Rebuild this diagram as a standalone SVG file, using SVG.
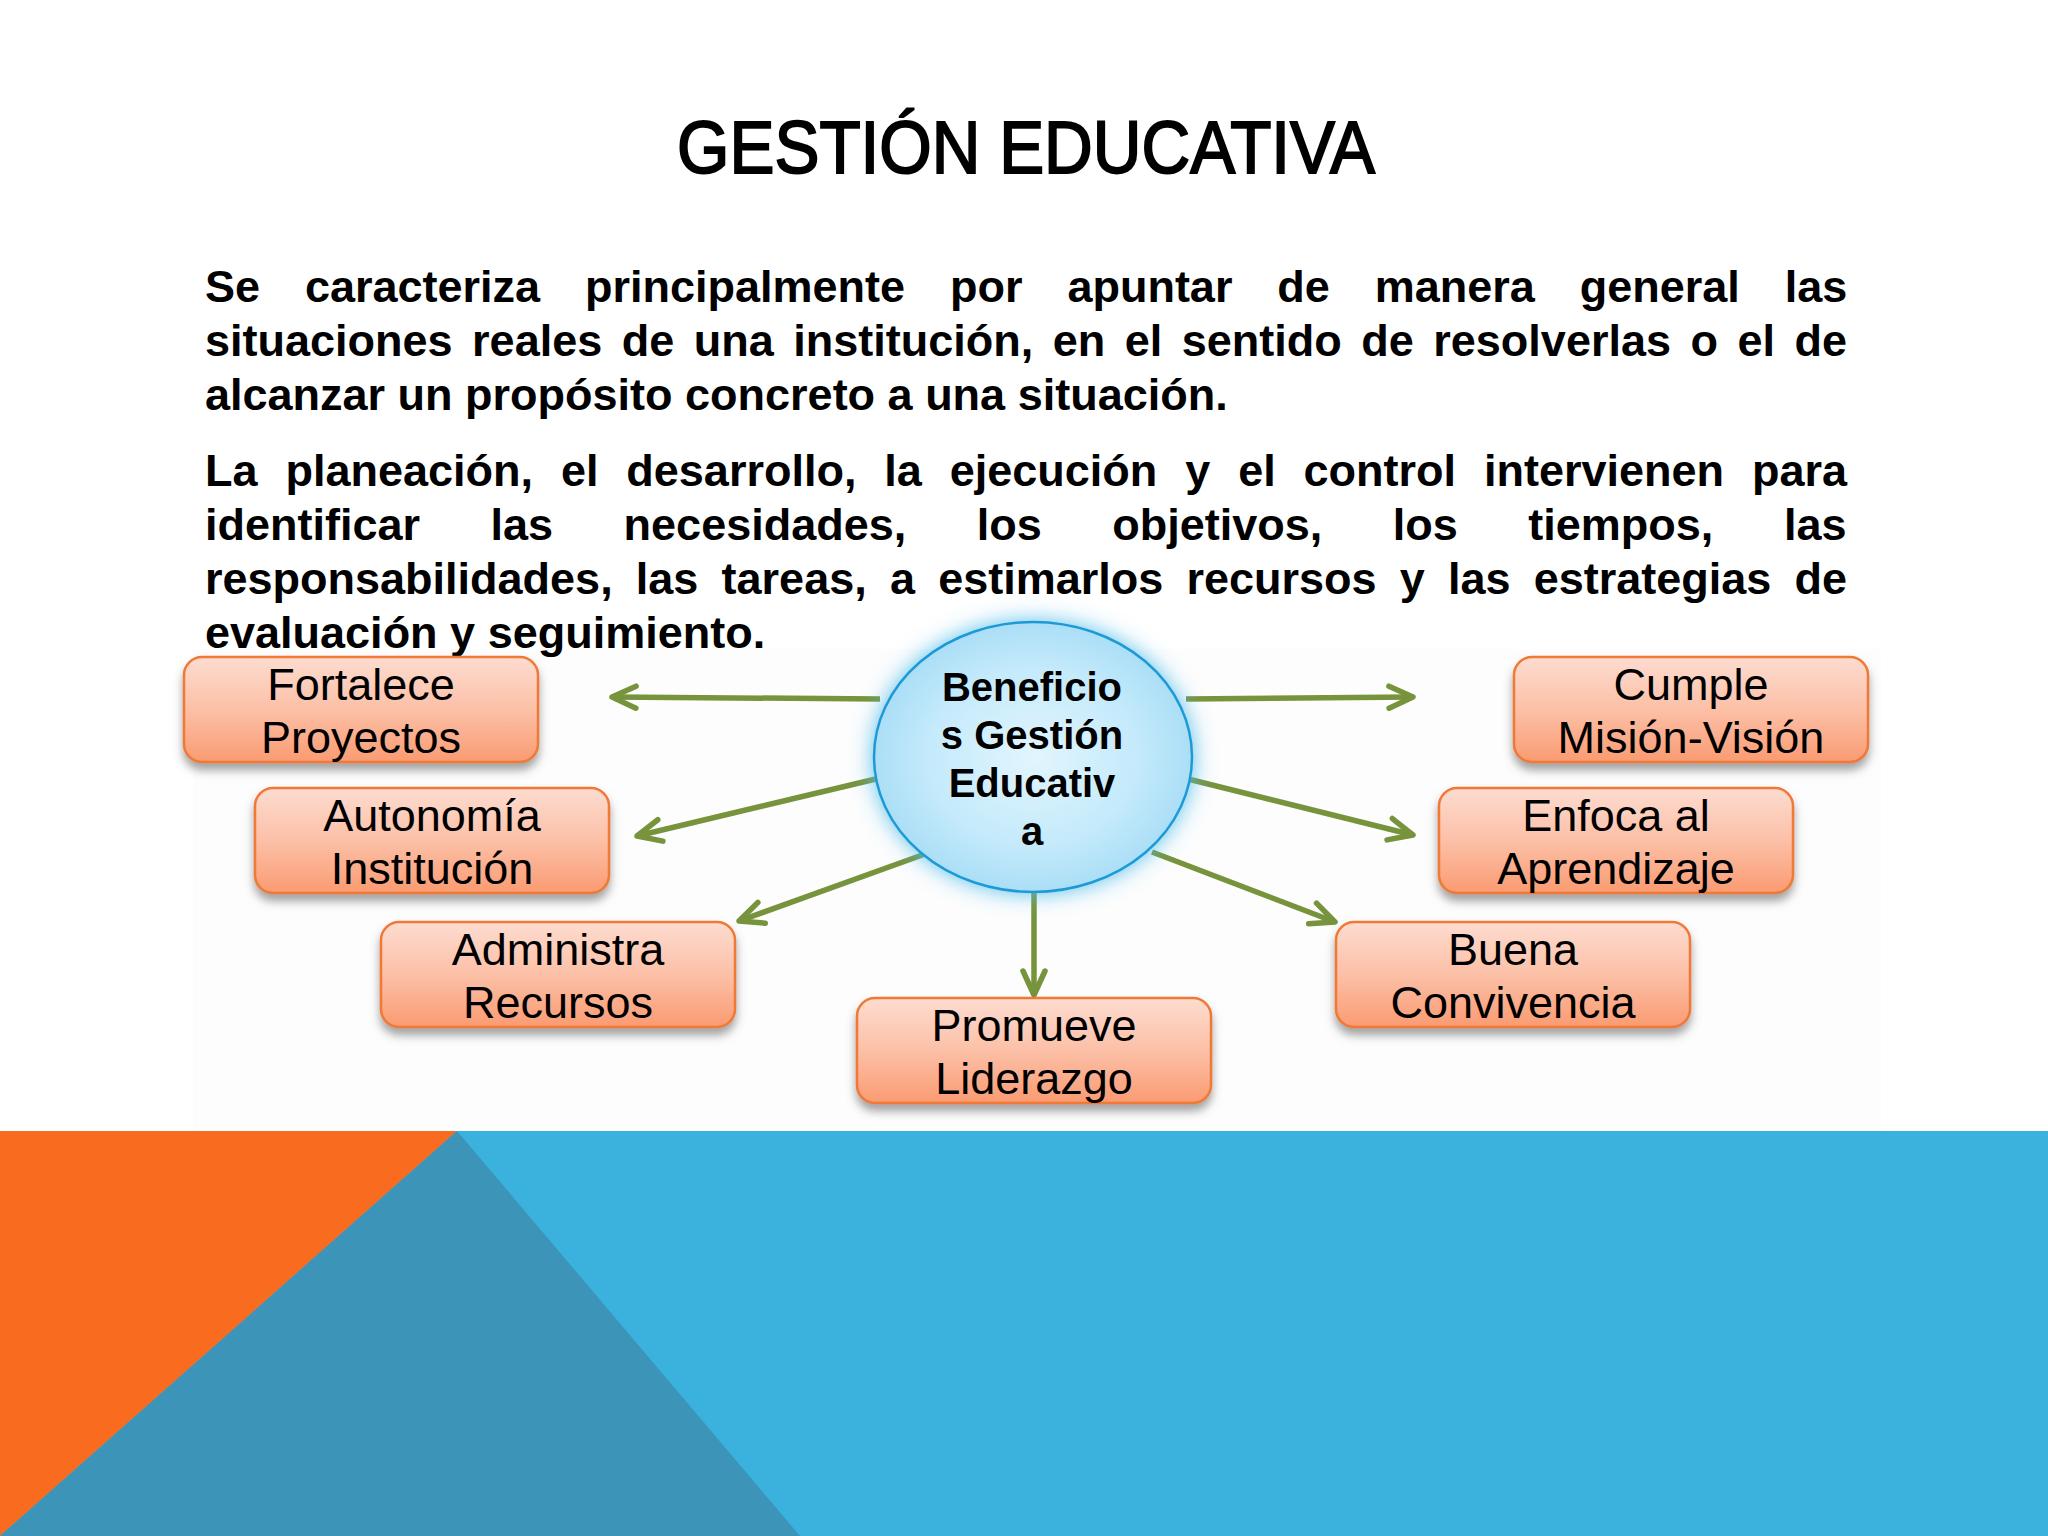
<svg xmlns="http://www.w3.org/2000/svg" width="2048" height="1536" viewBox="0 0 2048 1536">
<defs>
<style>
.title{font-family:"Liberation Sans",Arial,sans-serif;font-size:75px;fill:#000;stroke:#000;stroke-width:2}
.para{font-family:"Liberation Sans",Arial,sans-serif;font-size:45px;font-weight:bold;fill:#000}
.lbl{font-family:"Liberation Sans",Arial,sans-serif;font-size:45px;fill:#000;text-anchor:middle}
.ctr{font-family:"Liberation Sans",Arial,sans-serif;font-size:40px;font-weight:bold;fill:#000;text-anchor:middle}
.box{fill:url(#boxg);stroke:#F07935;stroke-width:2.5;filter:url(#shadow)}
.con{fill:none;stroke:#77933C;stroke-width:5.5;marker-end:url(#ah)}
</style>
<linearGradient id="boxg" x1="0" y1="0" x2="0" y2="1">
<stop offset="0" stop-color="#FDDCD0"/>
<stop offset="0.5" stop-color="#FCC0A7"/>
<stop offset="1" stop-color="#FA9B72"/>
</linearGradient>
<radialGradient id="ellg" cx="0.5" cy="0.5" r="0.55">
<stop offset="0" stop-color="#E2F5FD"/>
<stop offset="0.6" stop-color="#C4EAFB"/>
<stop offset="1" stop-color="#A3DBF5"/>
</radialGradient>
<filter id="shadow" x="-10%" y="-20%" width="120%" height="150%">
<feDropShadow dx="0" dy="7" stdDeviation="5" flood-color="#555" flood-opacity="0.55"/>
</filter>
<filter id="glow" x="-25%" y="-25%" width="150%" height="150%">
<feGaussianBlur in="SourceAlpha" stdDeviation="11" result="b"/>
<feFlood flood-color="#4FBDEB" flood-opacity="0.95"/>
<feComposite in2="b" operator="in" result="g"/>
<feMerge><feMergeNode in="g"/><feMergeNode in="SourceGraphic"/></feMerge>
</filter>
<marker id="ah" markerUnits="userSpaceOnUse" viewBox="-30 -20 40 40" refX="0" refY="0" markerWidth="40" markerHeight="40" orient="auto" overflow="visible">
<path d="M-24,-11 L0,0 L-24,11" fill="none" stroke="#77933C" stroke-width="5.5" stroke-linecap="round" stroke-linejoin="round"/>
</marker>
</defs>

<rect x="0" y="0" width="2048" height="1536" fill="#FFFFFF"/>
<rect x="193" y="649" width="1688" height="482" fill="#FDFDFD"/>

<g id="background-band">
<rect x="0" y="1131" width="2048" height="405" fill="#3BB1DE"/>
<polygon points="0,1131 457,1131 0,1536" fill="#F96B1E"/>
<polygon points="457,1131 800,1536 0,1536" fill="#3C95B8"/>
</g>

<g id="title">
<text class="title" x="1026" y="173" text-anchor="middle" textLength="698" lengthAdjust="spacingAndGlyphs">GESTIÓN EDUCATIVA</text>
</g>

<g id="paragraphs">
<text class="para" x="205" y="302" word-spacing="32.4">Se caracteriza principalmente por apuntar de manera general las</text>
<text class="para" x="205" y="356" word-spacing="7">situaciones reales de una institución, en el sentido de resolverlas o el de</text>
<text class="para" x="205" y="410">alcanzar un propósito concreto a una situación.</text>
<text class="para" x="205" y="486" word-spacing="15.4">La planeación, el desarrollo, la ejecución y el control intervienen para</text>
<text class="para" x="205" y="540" word-spacing="58">identificar las necesidades, los objetivos, los tiempos, las</text>
<text class="para" x="205" y="594" word-spacing="10.7">responsabilidades, las tareas, a estimarlos recursos y las estrategias de</text>
<text class="para" x="205" y="648">evaluación y seguimiento.</text>
</g>

<g id="connectors">
<path class="con" d="M880,699 L612,697"/>
<path class="con" d="M880,778 L637,836"/>
<path class="con" d="M925,854 L739,921"/>
<path class="con" d="M1034,890 L1034,995"/>
<path class="con" d="M1152,852 L1335,922"/>
<path class="con" d="M1188,779 L1413,835"/>
<path class="con" d="M1186,699 L1413,697"/>
</g>

<g id="node-center">
<ellipse cx="1033" cy="757" rx="159" ry="135" fill="url(#ellg)" stroke="#1E9AD6" stroke-width="2.5" filter="url(#glow)"/>
<text class="ctr" x="1032" y="701">Beneficio</text>
<text class="ctr" x="1032" y="749">s Gestión</text>
<text class="ctr" x="1032" y="797">Educativ</text>
<text class="ctr" x="1032" y="845">a</text>
</g>

<g id="node-fortalece">
<rect class="box" x="184" y="657" width="354" height="105" rx="18"/>
<text class="lbl" x="361" y="700">Fortalece</text>
<text class="lbl" x="361" y="753">Proyectos</text>
</g>

<g id="node-autonomia">
<rect class="box" x="255" y="788" width="354" height="105" rx="18"/>
<text class="lbl" x="432" y="831">Autonomía</text>
<text class="lbl" x="432" y="884">Institución</text>
</g>

<g id="node-administra">
<rect class="box" x="381" y="922" width="354" height="105" rx="18"/>
<text class="lbl" x="558" y="965">Administra</text>
<text class="lbl" x="558" y="1018">Recursos</text>
</g>

<g id="node-promueve">
<rect class="box" x="857" y="998" width="354" height="105" rx="18"/>
<text class="lbl" x="1034" y="1041">Promueve</text>
<text class="lbl" x="1034" y="1094">Liderazgo</text>
</g>

<g id="node-buena">
<rect class="box" x="1336" y="922" width="354" height="105" rx="18"/>
<text class="lbl" x="1513" y="965">Buena</text>
<text class="lbl" x="1513" y="1018">Convivencia</text>
</g>

<g id="node-enfoca">
<rect class="box" x="1439" y="788" width="354" height="105" rx="18"/>
<text class="lbl" x="1616" y="831">Enfoca al</text>
<text class="lbl" x="1616" y="884">Aprendizaje</text>
</g>

<g id="node-cumple">
<rect class="box" x="1514" y="657" width="354" height="105" rx="18"/>
<text class="lbl" x="1691" y="700">Cumple</text>
<text class="lbl" x="1691" y="753">Misión-Visión</text>
</g>
</svg>
